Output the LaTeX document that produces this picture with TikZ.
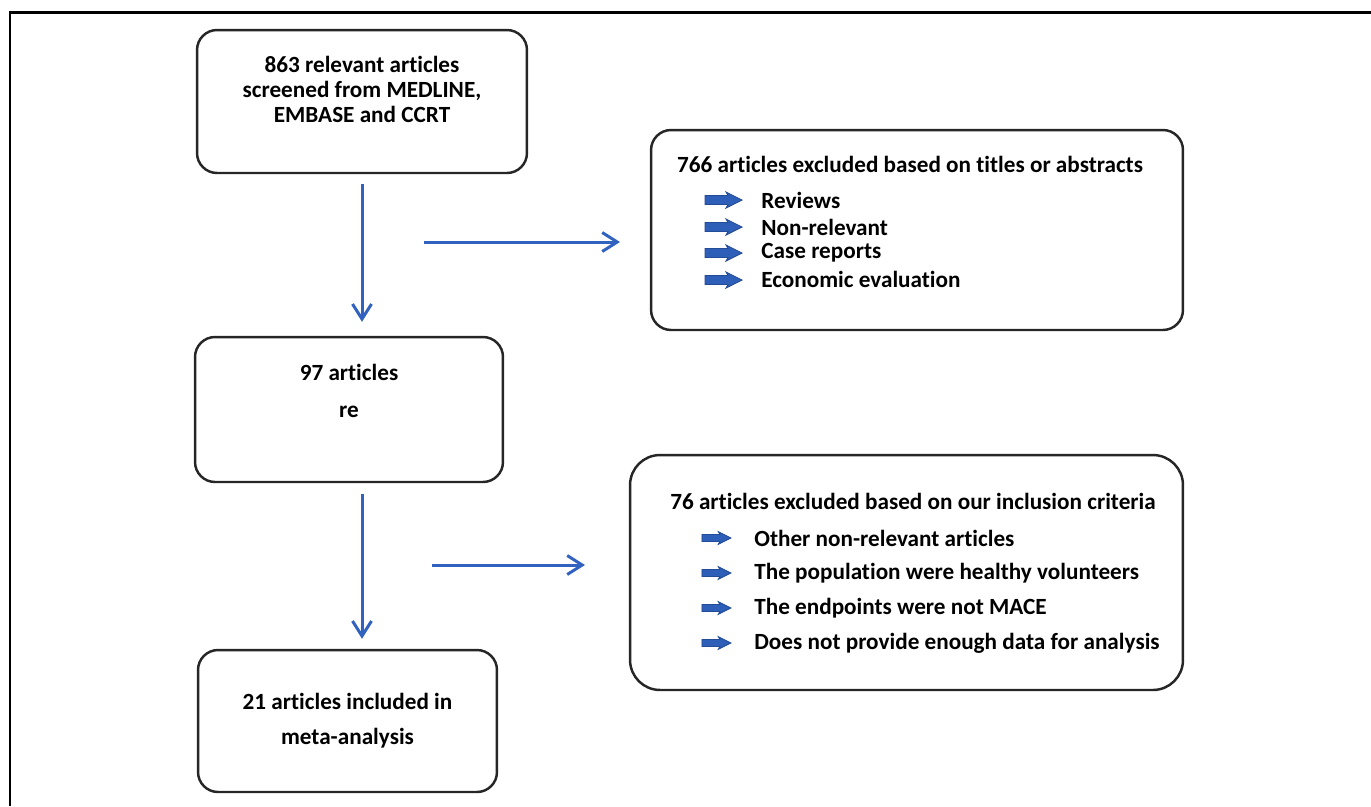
\documentclass[tikz,border=0pt]{standalone}
\usepackage{fontspec}
\setmainfont{Carlito}[Ligatures=NoCommon]
\definecolor{flowblue}{RGB}{50,98,192}
\definecolor{buledge}{RGB}{35,75,150}
\definecolor{bullight}{RGB}{140,180,230}
\definecolor{buldark}{RGB}{45,95,185}
\usetikzlibrary{arrows.meta,positioning}

\begin{document}
\begin{tikzpicture}[x=0.02cm,y=-0.02cm,
  flowbox/.style={draw=black!85,line width=1.4pt,rounded corners=0.4cm,align=center,
    font=\fontsize{13.2}{14.2}\selectfont\bfseries,inner sep=0pt},
  flowarr/.style={-{Straight Barb[length=0.3cm,width=0.38cm]},flowblue,line width=1.7pt},
  listtxt/.style={anchor=west,inner sep=0pt,font=\fontsize{13.2}{14.2}\selectfont\bfseries},
  bularr/.pic={\shade[top color=buldark,middle color=bullight,bottom color=buldark,draw=buledge,line width=0.5pt]
    (-18,-4.5) -- (5,-4.5) -- (3,-8) -- (19,0) -- (3,8) -- (5,4.5) -- (-18,4.5) -- cycle;}
]
  \useasboundingbox (0,0) rectangle (1371,806);
  % frame (cut on the right and at the bottom)
  \draw[line width=1.7pt] (10,806) -- (10,12) -- (1371,12);

  % left column
  \node[flowbox,minimum width=6.6cm,minimum height=2.86cm] (src) at (362,101.5)
    {863 relevant articles\\screened from MEDLINE,\\EMBASE and CCRT\\\mbox{}};
  \node[flowbox,minimum width=6.16cm,minimum height=2.9cm] (scr) at (349,409.5)
    {97 articles\\[6.8pt]re\\[6.8pt]\mbox{}};
  \node[flowbox,minimum width=5.98cm,minimum height=2.84cm] (incl) at (347.5,721)
    {21 articles included in\\[5.7pt]meta-analysis};

  % right column
  \node[flowbox,minimum width=10.64cm,minimum height=4cm] (excl1) at (917,230) {};
  \node[listtxt,anchor=base] (t1) at (910,172) {766 articles excluded based on titles or abstracts};
  \pic at (723,200) {bularr};
  \node[listtxt] (r11) at (761,200) {Reviews};
  \pic at (723,227) {bularr};
  \node[listtxt] (r12) at (761,227) {Non-relevant};
  \pic at (723,253) {bularr};
  \node[listtxt] (r13) at (761,253) {Case reports};
  \pic at (723,280) {bularr};
  \node[listtxt] (r14) at (761,279) {Economic evaluation};

  \node[flowbox,rounded corners=0.6cm,minimum width=11.06cm,minimum height=4.7cm] (excl2) at (906.5,572.5) {};
  \node[listtxt,anchor=base] (t2) at (913,509) {76 articles excluded based on our inclusion criteria};
  \pic[scale=0.78] at (716,538) {bularr};
  \node[listtxt] (r21) at (754,538) {Other non-relevant articles};
  \pic[scale=0.78] at (716,573) {bularr};
  \node[listtxt] (r22) at (754,573) {The population were healthy volunteers};
  \pic[scale=0.78] at (716,608) {bularr};
  \node[listtxt] (r23) at (754,608) {The endpoints were not MACE};
  \pic[scale=0.78] at (716,643) {bularr};
  \node[listtxt] (r24) at (754,643) {Does not provide enough data for analysis};

  % arrows
  \coordinate (h1a) at (424,242);
  \coordinate (h1b) at (620,242);
  \coordinate (h2a) at (432,565);
  \coordinate (h2b) at (585,565);
  \draw[flowarr,shorten <=0.2cm,shorten >=0.28cm] (src.south) -- (src.south |- scr.north);
  \draw[flowarr] (h1a) -- (h1b);
  \draw[flowarr,shorten <=0.22cm,shorten >=0.2cm] (src.south |- scr.south) -- (src.south |- incl.north);
  \draw[flowarr] (h2a) -- (h2b);
\end{tikzpicture}
\end{document}
